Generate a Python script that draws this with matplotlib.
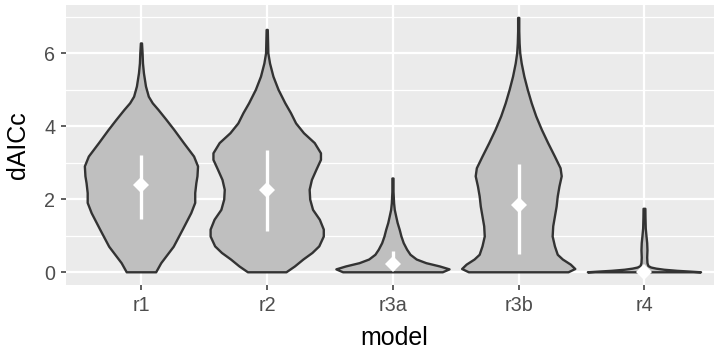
import numpy as np
import matplotlib
matplotlib.use('Agg')
import matplotlib.pyplot as plt

plt.rcParams['font.family'] = ['Liberation Sans', 'DejaVu Sans']

models = ['r1', 'r2', 'r3a', 'r3b', 'r4']

# violin outlines: dAICc level and relative density (1 = widest violin)
r1_y = [0, 0.25, 0.7, 1.17, 1.62, 1.9, 2.17, 2.44, 2.63, 2.9, 3.17, 3.54, 3.9,
        4.18, 4.45, 4.63, 4.81, 5.09, 5.45, 5.72, 6.0, 6.27]
r1_d = [0.26, 0.35, 0.57, 0.73, 0.88, 0.95, 0.95, 0.97, 0.99, 1.0, 0.93, 0.75,
        0.58, 0.44, 0.30, 0.20, 0.13, 0.08, 0.044, 0.027, 0.02, 0.01]

r2_y = [0, 0.16, 0.35, 0.53, 0.71, 0.98, 1.17, 1.44, 1.71, 1.99, 2.26, 2.53,
        2.81, 3.08, 3.26, 3.54, 3.81, 4.08, 4.36, 4.63, 5.0, 5.36, 5.72, 6.0, 6.64]
r2_d = [0.34, 0.49, 0.64, 0.80, 0.92, 1.0, 1.0, 0.93, 0.81, 0.76, 0.75, 0.79,
        0.87, 0.95, 0.95, 0.84, 0.65, 0.51, 0.42, 0.32, 0.20, 0.11, 0.05, 0.02, 0.01]

r3a_y = [0, 0.08, 0.16, 0.25, 0.35, 0.48, 0.62, 0.8, 0.98, 1.16, 1.35, 1.53,
         1.71, 1.89, 2.2, 2.57]
r3a_d = [0.88, 1.0, 0.83, 0.59, 0.42, 0.31, 0.25, 0.19, 0.15, 0.12, 0.083,
         0.057, 0.032, 0.02, 0.01, 0.01]

r3b_y = [0, 0.09, 0.21, 0.35, 0.48, 0.71, 0.98, 1.26, 1.53, 1.8, 2.08, 2.35,
         2.63, 2.85, 3.17, 3.54, 3.9, 4.27, 4.63, 5.0, 5.36, 5.72, 6.0, 6.27,
         6.6, 6.97]
r3b_d = [0.88, 1.0, 0.92, 0.78, 0.69, 0.64, 0.60, 0.61, 0.64, 0.67, 0.69, 0.72,
         0.76, 0.74, 0.64, 0.52, 0.41, 0.31, 0.23, 0.16, 0.10, 0.053, 0.027,
         0.016, 0.01, 0.01]

r4_y = [0, 0.02, 0.04, 0.07, 0.1, 0.13, 0.17, 0.25, 0.4, 0.6, 0.8, 1.0, 1.2,
        1.5, 1.74]
r4_d = [1.0, 0.80, 0.58, 0.35, 0.21, 0.12, 0.07, 0.053, 0.048, 0.053, 0.048,
        0.035, 0.023, 0.018, 0.016]

# summary point and range per model
centre = [2.38, 2.26, 0.23, 1.85, 0.0]
lower = [1.47, 1.12, 0.07, 0.50, 0.0]
upper = [3.22, 3.35, 0.59, 2.97, 0.02]

violins = [(r1_y, r1_d), (r2_y, r2_d), (r3a_y, r3a_d), (r3b_y, r3b_d), (r4_y, r4_d)]

fig = plt.figure(figsize=(7.14, 3.54), dpi=100)
ax = fig.add_axes([66 / 714, (354 - 285) / 354, 648 / 714, 280 / 354])
ax.set_facecolor('#EBEBEB')

half = 0.45
for i, (vy, vd) in enumerate(violins):
    pos = i + 1
    vy = np.array(vy)
    vd = np.array(vd) * half
    xs = np.concatenate([pos + vd, (pos - vd)[::-1]])
    ys = np.concatenate([vy, vy[::-1]])
    ax.fill(xs, ys, facecolor='#BFBFBF', edgecolor='#333333', linewidth=1.7,
            joinstyle='round', zorder=3)

pos = np.arange(1, len(models) + 1)
ax.vlines(pos, lower, upper, color='white', linewidth=2.4, zorder=4)
ax.plot(pos, centre, linestyle='none', marker='D', markersize=8.5,
        color='white', markeredgewidth=0, zorder=5)

ax.set_xlim(0.4, 5.553)
ax.set_ylim(-0.348, 7.323)
ax.set_xticks(pos)
ax.set_xticklabels(models)
ax.set_yticks([0, 2, 4, 6])
ax.set_yticks([1, 3, 5, 7], minor=True)

ax.grid(which='major', color='white', linewidth=1.6)
ax.grid(which='minor', axis='y', color='white', linewidth=0.9)
ax.set_axisbelow(True)
for s in ax.spines.values():
    s.set_visible(False)

ax.tick_params(which='major', length=3.8, width=1.1, color='#333333',
               labelsize=14.2, labelcolor='#4D4D4D', pad=4)
ax.tick_params(which='minor', length=0)

ax.set_xlabel('model', fontsize=18, color='black')
ax.set_ylabel('dAICc', fontsize=18, color='black')
ax.xaxis.set_label_coords(0.506, -0.148)
ax.yaxis.set_label_coords(-0.056, 0.5)

fig.savefig('out.png', dpi=100)
